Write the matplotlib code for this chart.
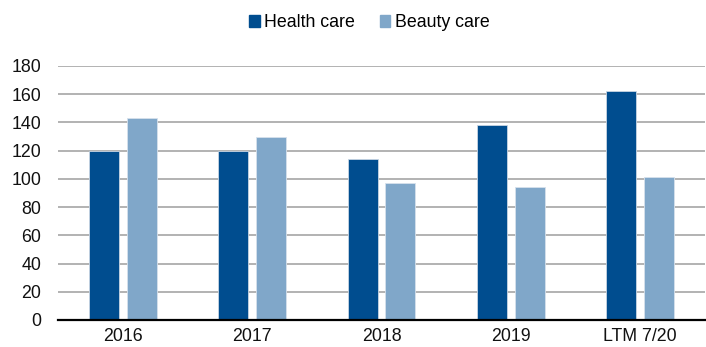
import numpy as np
import matplotlib
matplotlib.use('Agg')
import matplotlib.pyplot as plt
from matplotlib.patches import Patch

plt.rcParams['font.family'] = ['Liberation Sans', 'DejaVu Sans']

categories = ['2016', '2017', '2018', '2019', 'LTM 7/20']
health = [120, 120, 114, 138, 162]
beauty = [143, 130, 97, 94, 101]
yticks = [0, 20, 40, 60, 80, 100, 120, 140, 160, 180]

dark = '#004d8f'
light = '#80a7c9'

fig = plt.figure(figsize=(7.06, 3.47), dpi=100)
ax = fig.add_axes([58/706, 27/347, 647/706, 254/347])

x = np.arange(len(categories))
w = 30/130
gap = 8/130
ax.bar(x - (w + gap)/2, health, w, color=dark, edgecolor='#c9d6e3', linewidth=0.6, zorder=3)
ax.bar(x + (w + gap)/2, beauty, w, color=light, edgecolor='#d6e1ec', linewidth=0.6, zorder=3)

ax.set_xlim(-0.5, len(categories) - 0.5)
ax.set_ylim(0, 180)
ax.set_yticks(yticks)
ax.set_xticks(x)
ax.set_xticklabels(categories)
ax.tick_params(axis='both', length=0, labelsize=12.8, colors='#111111')
ax.tick_params(axis='y', pad=12)
ax.tick_params(axis='x', pad=6)
ax.grid(axis='y', color='#a6a6a6', linewidth=1.2, zorder=0)
for s in ['top', 'right', 'left']:
    ax.spines[s].set_visible(False)
ax.spines['bottom'].set_color('#000000')
ax.spines['bottom'].set_linewidth(1.6)
ax.spines['bottom'].set_zorder(4)

handles = [Patch(color=dark, label='Health care'), Patch(color=light, label='Beauty care')]
fig.legend(handles=handles, loc='center', bbox_to_anchor=(0.523, 0.934), ncol=2,
           frameon=False, fontsize=12.8, handlelength=0.6, handleheight=0.6,
           handletextpad=0.25, columnspacing=1.4)

fig.savefig('out.png', dpi=100)
